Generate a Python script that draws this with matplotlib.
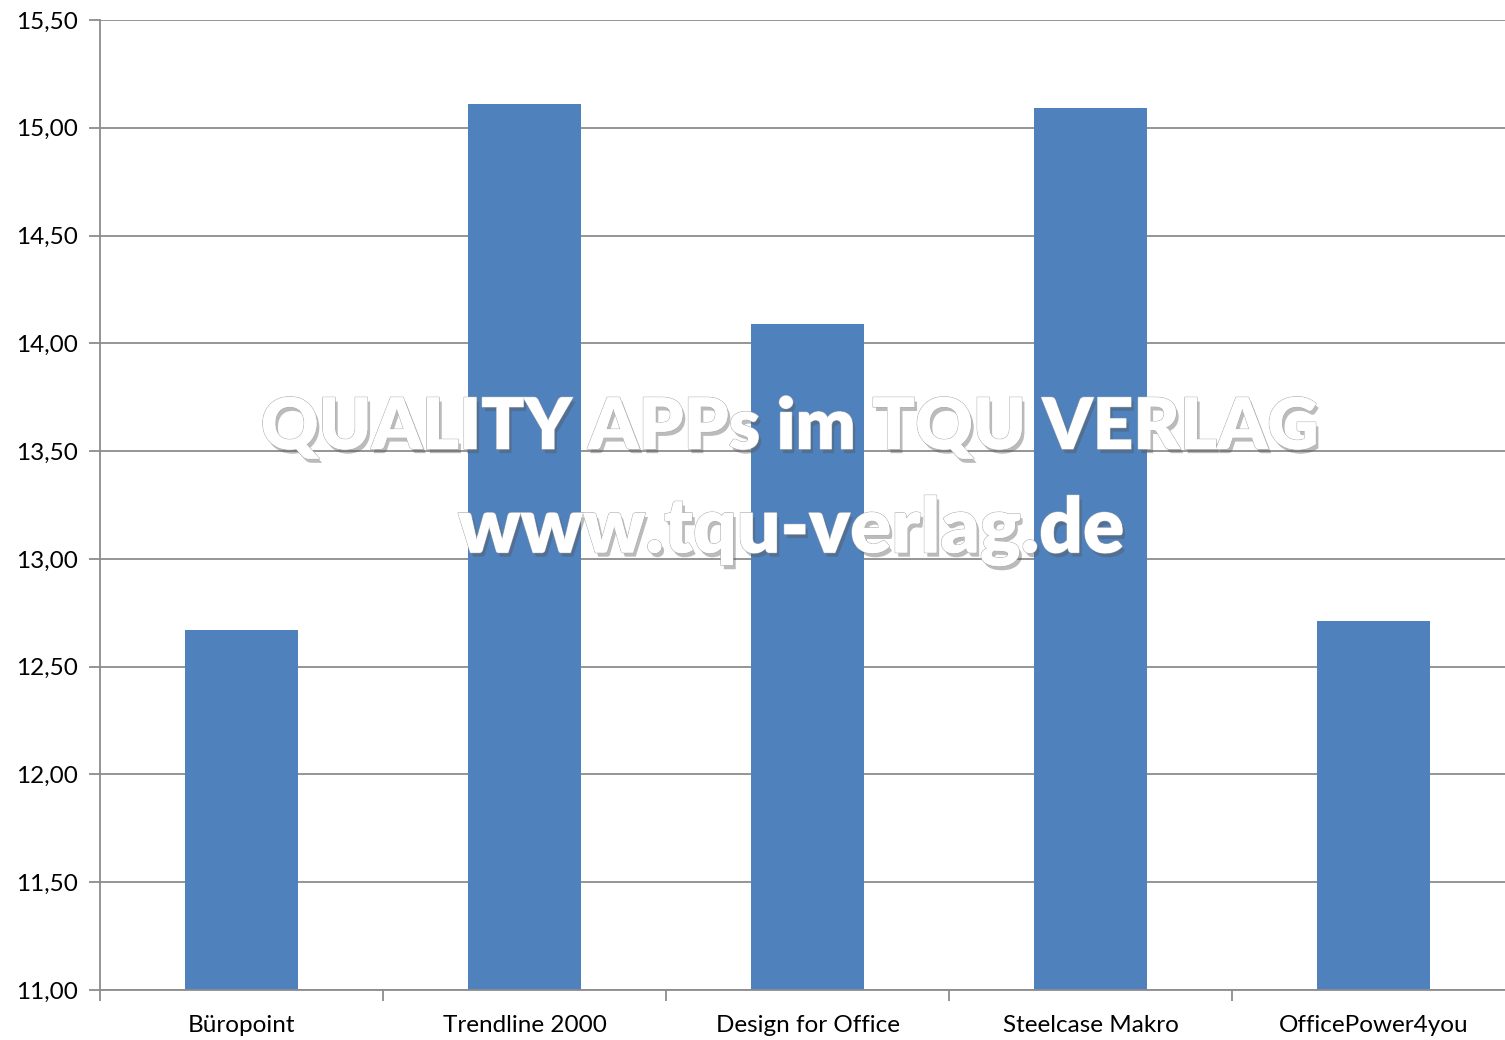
import matplotlib
matplotlib.use("Agg")
import matplotlib.pyplot as plt
import matplotlib.patheffects as pe
from matplotlib.ticker import FuncFormatter, MultipleLocator

categories = ["Büropoint", "Trendline 2000", "Design for Office", "Steelcase Makro", "OfficePower4you"]
values = [12.67, 15.11, 14.09, 15.09, 12.71]

plt.rcParams['font.family'] = ['Lato', 'DejaVu Sans']

fig = plt.figure(figsize=(15.05, 10.40), dpi=100)
ax = fig.add_axes([100/1505, 50/1040, 1415/1505, 970/1040])

x = list(range(len(categories)))
ax.bar(x, values, width=0.4, color="#4f81bd", zorder=2)
ax.set_xlim(-0.5, len(categories) - 0.5)
ax.set_ylim(11.0, 15.5)
ax.yaxis.set_major_locator(MultipleLocator(0.5))
ax.yaxis.set_major_formatter(FuncFormatter(lambda v, p: f"{v:.2f}".replace(".", ",")))
ax.grid(axis="y", color="#8c8c8c", linewidth=1.3, zorder=0)
ax.set_axisbelow(True)

ax.set_xticks(x)
ax.set_xticklabels(categories)
ax.set_xticks([i + 0.5 for i in range(-1, len(categories) - 1)] + [len(categories) - 0.5], minor=True)
ax.tick_params(axis="x", which="major", length=0, pad=18, labelsize=17.5)
ax.tick_params(axis="x", which="minor", length=8, color="#8c8c8c", width=1.3)
ax.tick_params(axis="y", length=8, color="#8c8c8c", width=1.3, labelsize=17.5, pad=8)

for s in ["top", "right"]:
    ax.spines[s].set_visible(False)
for s in ["left", "bottom"]:
    ax.spines[s].set_color("#8c8c8c")
    ax.spines[s].set_linewidth(1.3)

effects = [pe.withSimplePatchShadow(offset=(2, -3), shadow_rgbFace="#555555", alpha=0.4),
           pe.withStroke(linewidth=1.0, foreground="#b0b0b0"), pe.Normal()]
fig.text(790/1505, 1 - 428/1040, "QUALITY APPs im TQU VERLAG", ha="center", va="center",
         fontsize=51, fontweight="heavy", color="white", path_effects=effects, zorder=10)
fig.text(791/1505, 1 - 531/1040, "www.tqu-verlag.de", ha="center", va="center",
         fontsize=55, fontweight="heavy", color="white", path_effects=effects, zorder=10)

fig.savefig("out.png", dpi=100, facecolor="white")
